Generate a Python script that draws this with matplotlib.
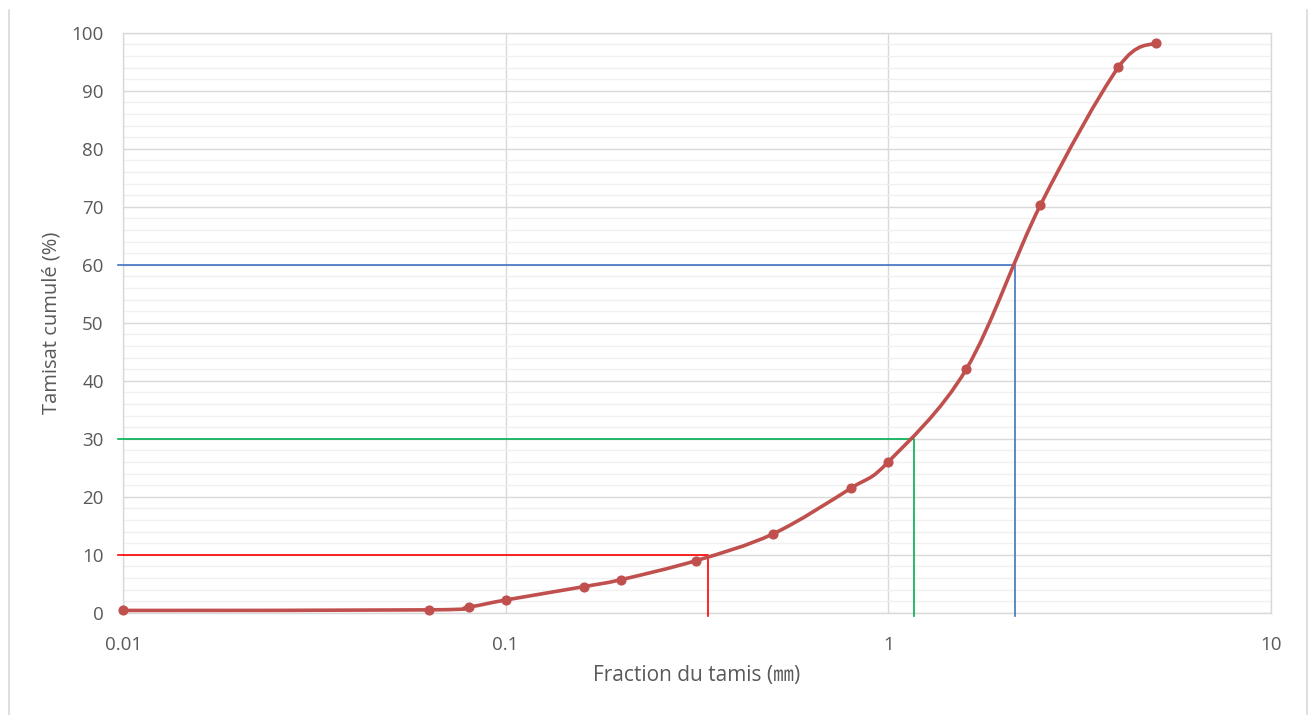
import numpy as np
import matplotlib
matplotlib.use('Agg')
import matplotlib.pyplot as plt
import matplotlib.ticker as mticker
from matplotlib.path import Path
from matplotlib.patches import PathPatch
from matplotlib.lines import Line2D

plt.rcParams['font.family'] = ['Open Sans', 'Noto Sans CJK JP', 'DejaVu Sans']

# sieve sizes (mm) and cumulative passing (%)
sieve = [0.01, 0.063, 0.08, 0.1, 0.16, 0.2, 0.315, 0.5, 0.8, 1.0, 1.6, 2.5, 4.0, 5.0]
passing = [0.4, 0.5, 1.0, 2.2, 4.5, 5.7, 9.0, 13.6, 21.5, 26.0, 42.0, 70.3, 94.1, 98.3]

# D10, D30, D60 reading lines
d_levels = [10, 30, 60]
d_sizes = [0.338, 1.166, 2.14]
d_colors = ['#FF0000', '#00B050', '#4472C4']

curve_col = '#C0504D'
grid_major = '#D9D9D9'
grid_minor = '#F0F0F0'
txt_col = '#595959'

fig = plt.figure(figsize=(13.1, 7.15), dpi=100)
ax = fig.add_axes([0.094, 0.143, 0.876, 0.811])
ax.set_xscale('log')
ax.set_xlim(0.01, 10)
ax.set_ylim(0, 100)

ax.yaxis.set_major_locator(mticker.MultipleLocator(10))
ax.yaxis.set_minor_locator(mticker.MultipleLocator(2))
ax.xaxis.set_major_locator(mticker.FixedLocator([0.01, 0.1, 1, 10]))
ax.xaxis.set_minor_locator(mticker.NullLocator())
ax.xaxis.set_major_formatter(mticker.FuncFormatter(lambda v, p: '%g' % v))

ax.grid(which='major', axis='both', color=grid_major, lw=1.0)
ax.grid(which='minor', axis='y', color=grid_minor, lw=1.0)
ax.set_axisbelow(True)
for s in ax.spines.values():
    s.set_color(grid_major)
    s.set_linewidth(1.0)
ax.tick_params(which='both', length=0, colors=txt_col, labelsize=13.5)
ax.tick_params(axis='x', pad=17)
ax.tick_params(axis='y', pad=14)

# smoothed curve (Excel-like bezier through the points, in log-x space)
lx = np.log10(sieve)
py = np.array(passing)
n = len(lx)
verts = [(sieve[0], passing[0])]
codes = [Path.MOVETO]
for i in range(n - 1):
    i0 = max(i - 1, 0)
    i3 = min(i + 2, n - 1)
    c1 = (lx[i] + (lx[i + 1] - lx[i0]) / 6, py[i] + (py[i + 1] - py[i0]) / 6)
    c2 = (lx[i + 1] - (lx[i3] - lx[i]) / 6, py[i + 1] - (py[i3] - py[i]) / 6)
    verts += [(10 ** c1[0], c1[1]), (10 ** c2[0], c2[1]), (sieve[i + 1], passing[i + 1])]
    codes += [Path.CURVE4] * 3
ax.add_patch(PathPatch(Path(verts, codes), fc='none', ec=curve_col, lw=2.6, zorder=4,
                       capstyle='round'))
ax.plot(sieve, passing, 'o', color=curve_col, ms=6.3, zorder=5, clip_on=False)

for lev, d, c in zip(d_levels, d_sizes, d_colors):
    ax.plot([0.0097, d, d], [lev, lev, -0.6], color=c, lw=1.2, zorder=3, clip_on=False)

ax.set_xlabel('Fraction du tamis (\u339c)', color=txt_col, fontsize=15, labelpad=8)
ax.set_ylabel('Tamisat cumulé (%)', color=txt_col, fontsize=14.5, labelpad=7)

# outer chart border
fig.add_artist(Line2D([0.007, 0.007], [0.0, 0.986], color='#D9D9D9', lw=1.2))
fig.add_artist(Line2D([0.998, 0.998], [0.0, 0.986], color='#D9D9D9', lw=1.2))

fig.savefig('out.png', dpi=100)
